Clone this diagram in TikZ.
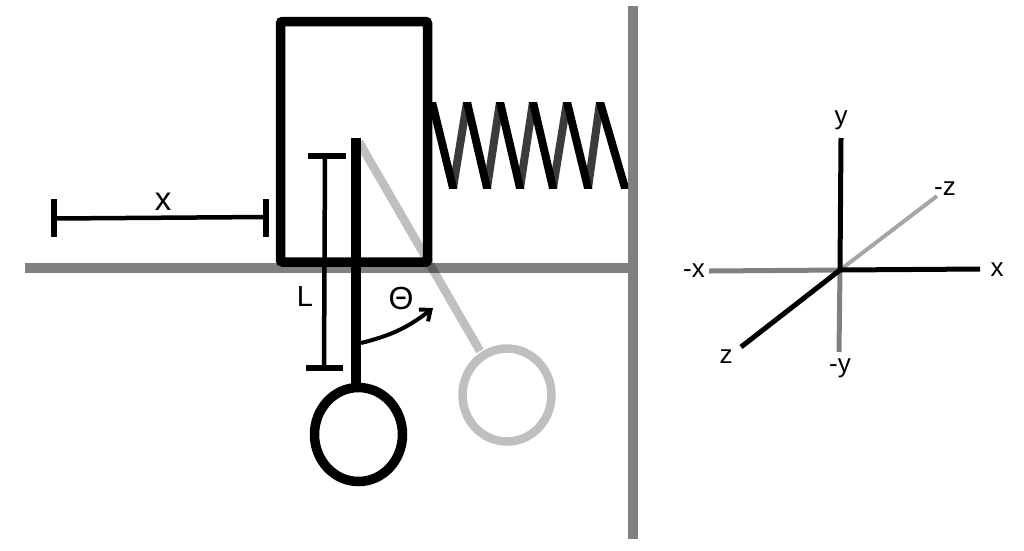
\documentclass[tikz,border=0pt]{standalone}
\usepackage{fontspec}
\setmainfont{Liberation Sans}
\usetikzlibrary{arrows.meta}
\tikzset{
    lbl/.style={inner sep=0pt,font=\fontsize{26}{26}\selectfont},
    biglbl/.style={inner sep=0pt,font=\fontsize{29}{29}\selectfont},
    ghost/.style={black,opacity=.25,line width=8.5pt},
    ax/.style={line width=5pt},
    coil/.style={line width=8pt,shorten <=-12pt,shorten >=-12pt}
}
\begin{document}
\begin{tikzpicture}[x=1pt,y=-1pt]
    \useasboundingbox (0,0) rectangle (1024,550);
    % ground and wall
    \draw[line width=10pt,gray] (25,268)--(628,268);
    \draw[line width=10.5pt,gray] (633,6)--(633,539);
    % spring
    \begin{scope}
        \clip (432,102) rectangle (628,188);
        \foreach \a/\b in {453/467,487/500,520/533,553/567,588/600}
            \draw[coil,black!77] (\a,188)--(\b,102);
        \foreach \a/\b in {432/453,467/487,500/520,533/553,567/588,600/625}
            \draw[coil,black] (\a,102)--(\b,188);
    \end{scope}
    % displaced pendulum
    \draw[ghost] (359,142)--(480,351);
    \draw[ghost] (507,395) ellipse (44.5 and 46.5);
    % cart
    \draw[line width=9.5pt,rounded corners=2pt] (280.5,21.5) rectangle (427.5,262);
    % pendulum
    \draw[line width=10pt] (356,138)--(356,386);
    \draw[line width=9.5pt] (358.5,434.5) ellipse (44 and 47);
    \draw[line width=4pt,-{Straight Barb[length=9pt,width=15pt]}] (361,343) to[bend right=12] (433,308);
    \node[biglbl,font=\fontsize{32}{32}\selectfont] (theta) at (401,298) {Θ};
    % length of the rod
    \draw[line width=4.5pt] (325,156)--(324,368);
    \draw[line width=5.5pt] (308,156)--(346,156);
    \draw[line width=5.5pt] (306,368)--(343,368);
    \node[biglbl] (len) at (305,297) {L};
    % position of the cart
    \draw[line width=4.5pt] (54,218.5)--(266,217);
    \draw[line width=5.5pt] (54,199)--(54,237);
    \draw[line width=5.5pt] (266,199)--(266,237);
    \node[biglbl,font=\fontsize{33}{33}\selectfont] (pos) at (163,202) {x};
    % axes
    \coordinate (o) at (840,270);
    \coordinate (xp) at (980,269);
    \coordinate (xm) at (709,271);
    \coordinate (yp) at (841,138);
    \coordinate (ym) at (839,352);
    \coordinate (zp) at (741,347);
    \coordinate (zm) at (937,196);
    \draw[ax,gray] (o)--(xm);
    \draw[ax,gray] (o)--(ym);
    \draw[ax,black!35,line width=4pt] (o)--(zm);
    \draw[ax] (o)--(xp);
    \draw[ax] (o)--(yp);
    \draw[ax] (o)--(zp);
    \node[lbl] (lxp) at (997,270) {x};
    \node[lbl] (lxm) at (694,271) {-x};
    \node[lbl] (lyp) at (841,120) {y};
    \node[lbl] (lym) at (840,368) {-y};
    \node[lbl] (lzp) at (726,357) {z};
    \node[lbl] (lzm) at (945,189) {-z};
\end{tikzpicture}
\end{document}
